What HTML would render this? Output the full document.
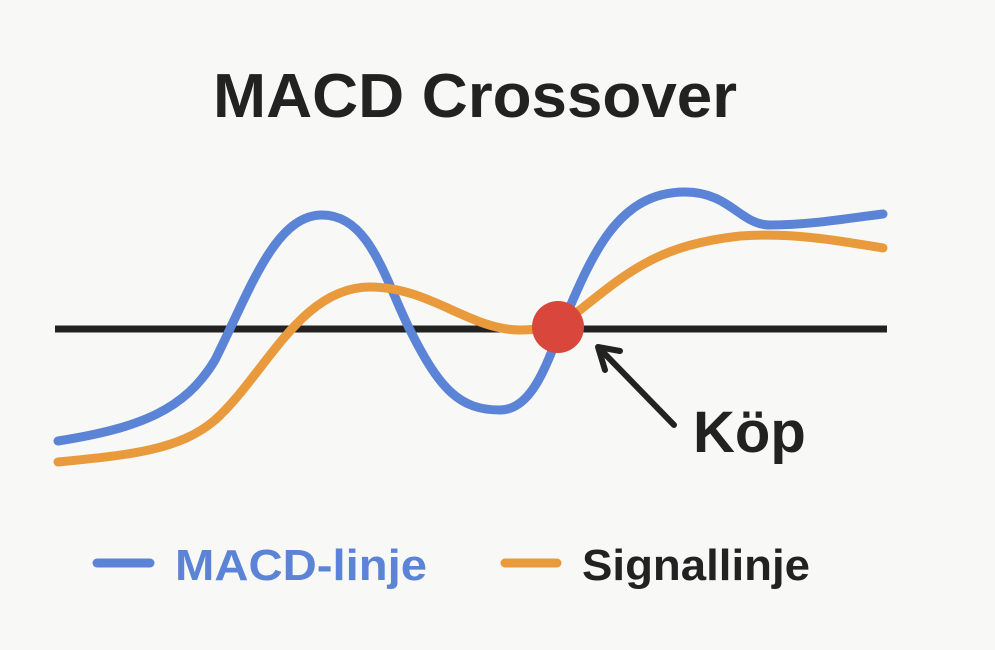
<!DOCTYPE html>
<html><head><style>
html,body{margin:0;padding:0;background:#f8f8f6;}
svg{display:block}
</style></head><body>
<svg width="995" height="650" viewBox="0 0 995 650" xmlns="http://www.w3.org/2000/svg">
<rect width="995" height="650" fill="#f8f8f6"/>
<text x="213" y="117" textLength="524" lengthAdjust="spacingAndGlyphs" font-family="Liberation Sans, sans-serif" font-weight="bold" font-size="62" fill="#222">MACD Crossover</text>
<line x1="55" y1="329" x2="887" y2="329" stroke="#222" stroke-width="7"/>
<path d="M58,441 C140,428 185,410 215,360 C250,290 275,215 322,215 C370,215 385,280 410,330 C440,390 460,410 500,410 C530,410 545,370 560,330 C590,260 615,192 685,192 C730,192 740,225 770,225 C810,225 850,218 883,214" fill="none" stroke="#5b83d6" stroke-width="9" stroke-linecap="round"/>
<path d="M58,462 C130,455 180,450 215,420 C265,375 300,287 370,287 C430,287 470,330 520,330 C545,330 560,325 580,310 C630,270 660,245 740,236 C800,232 850,243 883,248" fill="none" stroke="#e89a3c" stroke-width="9" stroke-linecap="round"/>
<circle cx="558" cy="327" r="26" fill="#d9463b"/>
<line x1="674" y1="425" x2="601" y2="350" stroke="#222" stroke-width="6" stroke-linecap="round"/>
<polyline points="605,370 598,347 620,351" fill="none" stroke="#222" stroke-width="6" stroke-linecap="round" stroke-linejoin="round"/>
<text x="693" y="452" font-family="Liberation Sans, sans-serif" font-weight="bold" font-size="58" fill="#222">Köp</text>
<line x1="97" y1="563" x2="150" y2="563" stroke="#5b83d6" stroke-width="9" stroke-linecap="round"/>
<text x="175" y="580" textLength="252" lengthAdjust="spacingAndGlyphs" font-family="Liberation Sans, sans-serif" font-weight="bold" font-size="44" fill="#5b83d6">MACD-linje</text>
<line x1="505" y1="563" x2="557" y2="563" stroke="#e89a3c" stroke-width="9" stroke-linecap="round"/>
<text x="582" y="580" textLength="228" lengthAdjust="spacingAndGlyphs" font-family="Liberation Sans, sans-serif" font-weight="bold" font-size="44" fill="#222">Signallinje</text>
</svg>
</body></html>
